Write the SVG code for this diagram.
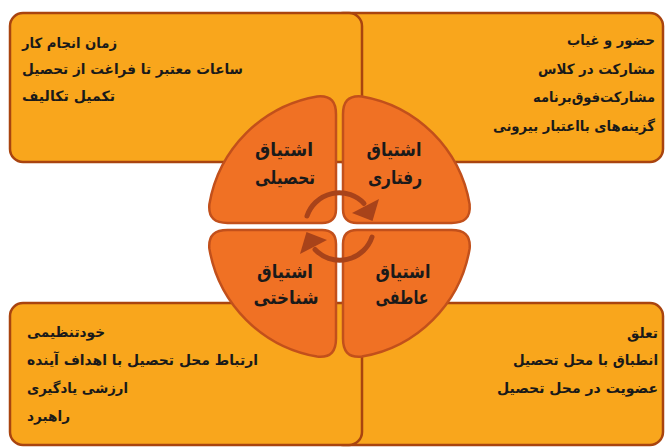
<svg xmlns="http://www.w3.org/2000/svg" width="665" height="447" viewBox="0 0 665 447">
<style>
.box{fill:#F9A61C;stroke:#A9440F;stroke-width:2.5}
.q{fill:#F07124;stroke:#C2501B;stroke-width:2.5}
.t{font-family:"DejaVu Sans",sans-serif;font-weight:bold;font-size:14px;fill:#1a1a1a}
.ql{font-family:"DejaVu Sans",sans-serif;font-weight:bold;font-size:19px;fill:#1a1a1a;text-anchor:middle}
.arr{fill:none;stroke:#A8431A;stroke-width:5;stroke-linecap:round}
.ah{fill:#A8431A}
</style>
<defs>
<path id="quarter" d="M -3.5 -17.5 L -3.5 -112 C -3.5 -124 -8 -131.5 -22.4 -130.1 A 132 132 0 0 0 -130.1 -22.4 C -131.5 -8 -124 -3.5 -112 -3.5 L -17.5 -3.5 Q -3.5 -3.5 -3.5 -17.5 Z"/>
</defs>
<rect width="665" height="447" fill="#ffffff"/>
<g id="box-behavioral">
<rect class="box" x="330" y="13" width="333" height="149" rx="13"/>
<text class="t" x="567" y="45" textLength="88" lengthAdjust="spacingAndGlyphs">حضور و غیاب</text>
<text class="t" x="538" y="74" textLength="117" lengthAdjust="spacingAndGlyphs">مشارکت در کلاس</text>
<text class="t" x="533" y="102" textLength="122" lengthAdjust="spacingAndGlyphs">مشارکت‌فوق‌برنامه</text>
<text class="t" x="493" y="131" textLength="162" lengthAdjust="spacingAndGlyphs">گزینه‌های بااعتبار بیرونی</text>
</g>
<g id="box-emotional">
<rect class="box" x="330" y="303" width="333" height="142" rx="13"/>
<text class="t" x="627" y="338" textLength="31" lengthAdjust="spacingAndGlyphs">تعلق</text>
<text class="t" x="513" y="365" textLength="145" lengthAdjust="spacingAndGlyphs">انطباق با محل تحصیل</text>
<text class="t" x="497" y="393" textLength="161" lengthAdjust="spacingAndGlyphs">عضویت در محل تحصیل</text>
</g>
<g id="box-academic">
<rect class="box" x="10" y="13" width="352" height="149" rx="13"/>
<text class="t" x="22" y="48" textLength="95" lengthAdjust="spacingAndGlyphs">زمان انجام کار</text>
<text class="t" x="22" y="74" textLength="221" lengthAdjust="spacingAndGlyphs">ساعات معتبر تا فراغت از تحصیل</text>
<text class="t" x="22" y="101" textLength="93" lengthAdjust="spacingAndGlyphs">تکمیل تکالیف</text>
</g>
<g id="box-cognitive">
<rect class="box" x="10" y="303" width="352" height="142" rx="13"/>
<text class="t" x="27" y="337" textLength="78" lengthAdjust="spacingAndGlyphs">خودتنظیمی</text>
<text class="t" x="27" y="365" textLength="231" lengthAdjust="spacingAndGlyphs">ارتباط محل تحصیل با اهداف آینده</text>
<text class="t" x="27" y="393" textLength="101" lengthAdjust="spacingAndGlyphs">ارزشی یادگیری</text>
<text class="t" x="27" y="421" textLength="43" lengthAdjust="spacingAndGlyphs">راهبرد</text>
</g>
<g id="q-academic">
<use href="#quarter" class="q" transform="translate(339.5 226.5)"/>
<text class="ql" x="284" y="156" textLength="58" lengthAdjust="spacingAndGlyphs">اشتیاق</text>
<text class="ql" x="285" y="184" textLength="60" lengthAdjust="spacingAndGlyphs">تحصیلی</text>
</g>
<g id="q-behavioral">
<use href="#quarter" class="q" transform="translate(339.5 226.5) scale(-1 1)"/>
<text class="ql" x="394" y="156" textLength="55" lengthAdjust="spacingAndGlyphs">اشتیاق</text>
<text class="ql" x="395" y="184" textLength="54" lengthAdjust="spacingAndGlyphs">رفتاری</text>
</g>
<g id="q-cognitive">
<use href="#quarter" class="q" transform="translate(339.5 226.5) scale(1 -1)"/>
<text class="ql" x="285" y="278" textLength="56" lengthAdjust="spacingAndGlyphs">اشتیاق</text>
<text class="ql" x="286" y="304" textLength="65" lengthAdjust="spacingAndGlyphs">شناختی</text>
</g>
<g id="q-emotional">
<use href="#quarter" class="q" transform="translate(339.5 226.5) scale(-1 -1)"/>
<text class="ql" x="403" y="278" textLength="55" lengthAdjust="spacingAndGlyphs">اشتیاق</text>
<text class="ql" x="402" y="304" textLength="53" lengthAdjust="spacingAndGlyphs">عاطفی</text>
</g>
<g id="connectors">
<g id="arrow-top">
<path class="arr" d="M 307 216 A 34 34 0 0 1 364 203.5"/>
<polygon class="ah" points="379,199 352,213 372.5,221"/>
</g>
<g id="arrow-bottom" transform="rotate(180 339.5 226.5)">
<path class="arr" d="M 307 216 A 34 34 0 0 1 364 203.5"/>
<polygon class="ah" points="379,199 352,213 372.5,221"/>
</g>
</g>
</svg>
